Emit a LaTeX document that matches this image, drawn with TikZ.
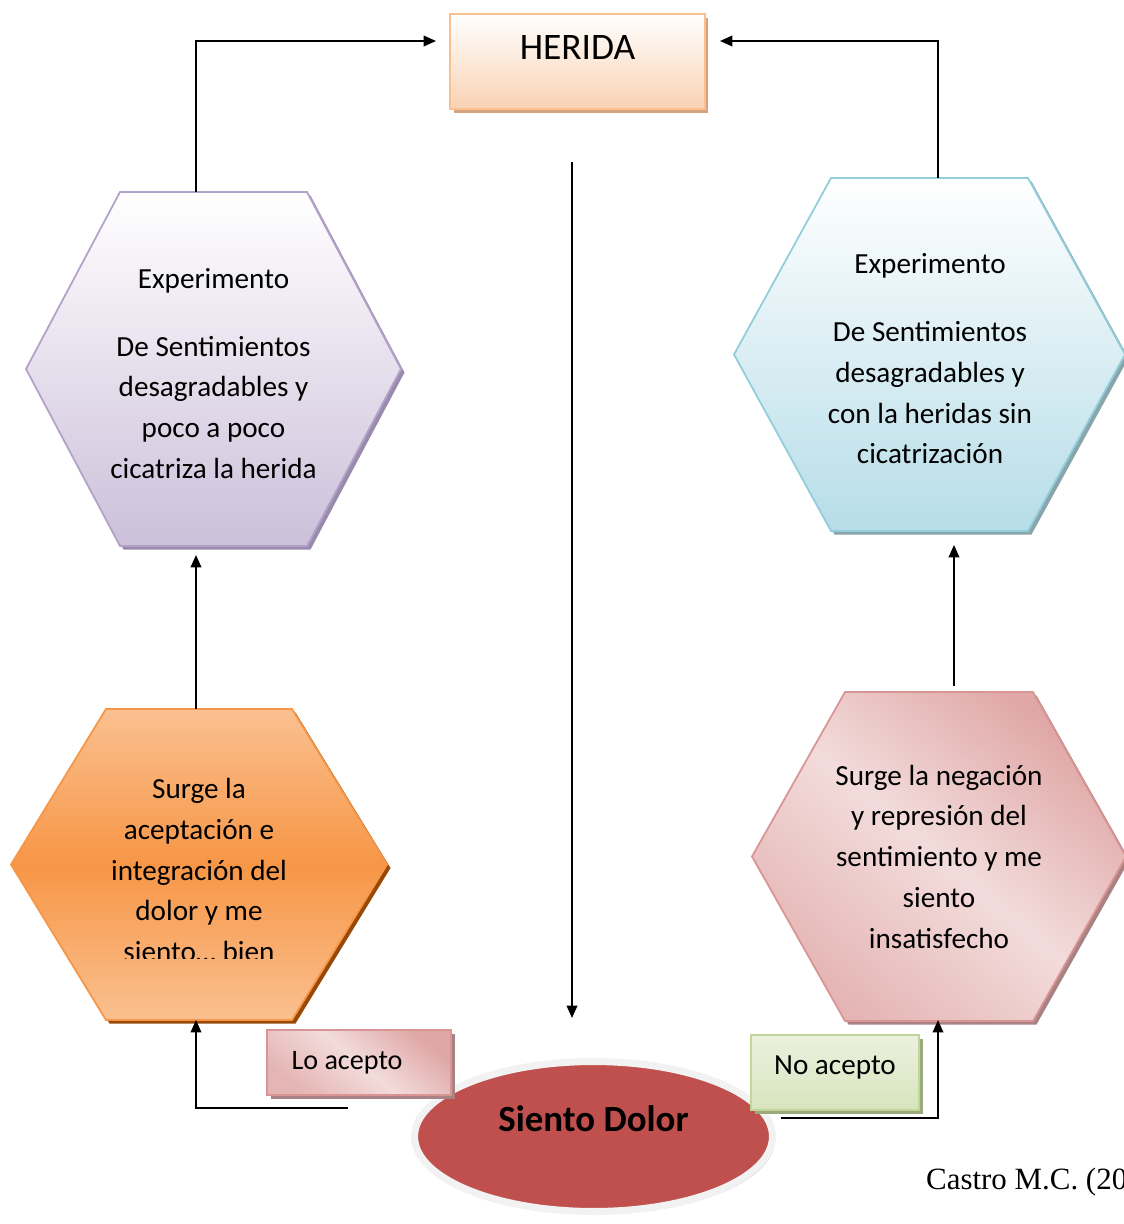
\documentclass[tikz,border=0pt]{standalone}
\usepackage{fontspec}
\setmainfont{Carlito}
\newfontfamily\timesfont{Liberation Serif}
\usepackage{xcolor}
\usepackage{tikz}
\usetikzlibrary{arrows.meta, shadows, shapes.geometric}

\definecolor{lilaBorde}{HTML}{B2A2C7}
\definecolor{lilaFondo}{HTML}{CCC0DA}
\definecolor{lilaSombra}{HTML}{9A8BAE}
\definecolor{azulBorde}{HTML}{92CDDC}
\definecolor{azulFondo}{HTML}{B6DDE8}
\definecolor{azulSombra}{HTML}{8AA4AC}
\definecolor{naranjaBorde}{HTML}{F79646}
\definecolor{naranjaClaro}{HTML}{FAC090}
\definecolor{naranjaSombra}{HTML}{984807}
\definecolor{rosaBorde}{HTML}{D99594}
\definecolor{rosaClaro}{HTML}{F2DCDB}
\definecolor{rosaSombra}{HTML}{A98283}
\definecolor{heridaBorde}{HTML}{FABF8F}
\definecolor{heridaFondo}{HTML}{F9D2B3}
\definecolor{heridaSombra}{HTML}{D3A47F}
\definecolor{verdeBorde}{HTML}{C2D69B}
\definecolor{verdeClaro}{HTML}{EBF1DE}
\definecolor{verdeFondo}{HTML}{D7E4BD}
\definecolor{verdeSombra}{HTML}{9BAA7C}
\definecolor{dolorRojo}{HTML}{C0504D}
\definecolor{dolorAro}{HTML}{F2F2F2}

% hexagono: nombre, estilo, izq, der, arriba, abajo, entrante
\newcommand{\hexagono}[7]{%
  \path[#2] (#3,{(#5+#6)/2}) -- ({#3+#7},#5) -- ({#4-#7},#5) -- (#4,{(#5+#6)/2})
    -- ({#4-#7},#6) -- ({#3+#7},#6) -- cycle;
  \coordinate (#1) at ({(#3+#4)/2},{(#5+#6)/2});
}

\begin{document}
\begin{tikzpicture}[x=0.02cm, y=-0.02cm, >={Triangle[length=7pt,width=6pt]}]
    \tikzstyle{hexlila} = [draw=lilaBorde, line width=1pt, top color=white, bottom color=lilaFondo, drop shadow={shadow xshift=2pt, shadow yshift=-2pt, fill=lilaSombra, opacity=1}]
    \tikzstyle{hexazul} = [draw=azulBorde, line width=1pt, top color=white, bottom color=azulFondo, drop shadow={shadow xshift=2pt, shadow yshift=-2pt, fill=azulSombra, opacity=1}]
    \tikzstyle{hexnaranja} = [draw=naranjaBorde, line width=1pt, top color=naranjaClaro, bottom color=naranjaClaro, middle color=naranjaBorde, drop shadow={shadow xshift=2pt, shadow yshift=-2pt, fill=naranjaSombra, opacity=1}]
    \tikzstyle{hexrosa} = [draw=rosaBorde, line width=1pt, top color=rosaBorde!75!rosaClaro, bottom color=rosaBorde!55!rosaClaro, middle color=rosaClaro, shading angle=-40, drop shadow={shadow xshift=2pt, shadow yshift=-2pt, fill=rosaSombra, opacity=1}]
    \tikzstyle{texto} = [align=center, font=\fontsize{16.6pt}{23.2pt}\selectfont]
    \tikzstyle{herida} = [rectangle, draw=heridaBorde, line width=1.2pt, top color=white, bottom color=heridaFondo, drop shadow={shadow xshift=2pt, shadow yshift=-2pt, fill=heridaSombra, opacity=1}, minimum width=5.1cm, minimum height=1.9cm, font=\fontsize{21.3pt}{25pt}\selectfont, text height=13.7pt, text depth=16pt]
    \tikzstyle{dolor} = [ellipse, draw=dolorAro, line width=4pt, fill=dolorRojo, drop shadow={shadow xshift=1.5pt, shadow yshift=-1.5pt, fill=black!30, opacity=1}, minimum width=7.16cm, minimum height=3cm, inner sep=0pt, font=\bfseries\fontsize{21pt}{25pt}\selectfont, text height=13.5pt, text depth=19pt]
    \tikzstyle{etiqrosa} = [rectangle, draw=rosaBorde, line width=1pt, top color=rosaBorde!75!rosaClaro, bottom color=rosaBorde!55!rosaClaro, middle color=rosaClaro, shading angle=-40, drop shadow={shadow xshift=2pt, shadow yshift=-2pt, fill=rosaSombra, opacity=1}, minimum width=3.68cm, minimum height=1.3cm, font=\fontsize{16pt}{19pt}\selectfont]
    \tikzstyle{etiqverde} = [rectangle, draw=verdeBorde, line width=1pt, top color=verdeClaro, bottom color=verdeFondo, drop shadow={shadow xshift=2pt, shadow yshift=-2pt, fill=verdeSombra, opacity=1}, minimum width=3.36cm, minimum height=1.5cm, font=\fontsize{16.6pt}{19pt}\selectfont, text depth=8pt]
    \tikzstyle{flecha} = [->, line width=1pt]

    \useasboundingbox (0,0) rectangle (1124,1224);

    % caja de arriba
    \node[herida] (herida) at (577.5,61.5) {HERIDA};

    % hexagonos
    \hexagono{sana}{hexlila}{26}{401}{192}{546}{94}
    \node[texto] (txtSana) at (213.5,373.5) {Experimento\\[15.4pt] De Sentimientos\\ desagradables y\\ poco a poco\\ cicatriza la herida};

    \hexagono{abierta}{hexazul}{734}{1125}{178}{531}{97}
    \node[texto] (txtAbierta) at (930,359) {Experimento\\[15.4pt] De Sentimientos\\ desagradables y\\ con la heridas sin\\ cicatrización};

    \hexagono{acepta}{hexnaranja}{11}{387}{709}{1020}{95}
    \begin{scope}
        \clip (0,700) rectangle (400,958);
        \node[texto] (txtAcepta) at (199,870) {Surge la\\ aceptación e\\ integración del\\ dolor y me\\ siento… bien};
    \end{scope}

    \hexagono{niega}{hexrosa}{752}{1126}{692}{1021}{93}
    \node[texto] (txtNiega) at (939,856.5) {Surge la negación\\ y represión del\\ sentimiento y me\\ siento\\ insatisfecho};

    % centro abajo
    \node[dolor] (dolor) at (593.5,1136.5) {Siento Dolor};
    \node[etiqrosa] (loAcepto) at (359,1062.5) {Lo acepto\hspace*{0.48cm}};
    \node[etiqverde] (noAcepto) at (835,1072.5) {No acepto};

    \node[font=\timesfont\fontsize{17.6pt}{20pt}\selectfont, anchor=west] (autor) at (920,1182) {Castro M.C. (20};

    % puntos de las flechas
    \coordinate (sanaArriba) at (196,192);
    \coordinate (sanaAbajo) at (196,555);
    \coordinate (heridaIzq) at (436,41);
    \coordinate (heridaDer) at (720,41);
    \coordinate (abiertaArriba) at (938,178);
    \coordinate (abiertaAbajo) at (954,545);
    \coordinate (aceptaArriba) at (196,709);
    \coordinate (aceptaAbajo) at (196,1020);
    \coordinate (niegaArriba) at (954,686);
    \coordinate (niegaAbajo) at (938,1020);
    \coordinate (centroArriba) at (572,162);
    \coordinate (centroAbajo) at (572,1018);
    \coordinate (loSale) at (348,1108);
    \coordinate (noSale) at (781,1118);

    \draw [flecha] (sanaArriba) |- (heridaIzq);
    \draw [flecha] (abiertaArriba) |- (heridaDer);
    \draw [flecha] (centroArriba) -- (centroAbajo);
    \draw [flecha] (aceptaArriba) -- (sanaAbajo);
    \draw [flecha] (niegaArriba) -- (abiertaAbajo);
    \draw [flecha] (loSale) -| (aceptaAbajo);
    \draw [flecha] (noSale) -| (niegaAbajo);
\end{tikzpicture}
\end{document}
